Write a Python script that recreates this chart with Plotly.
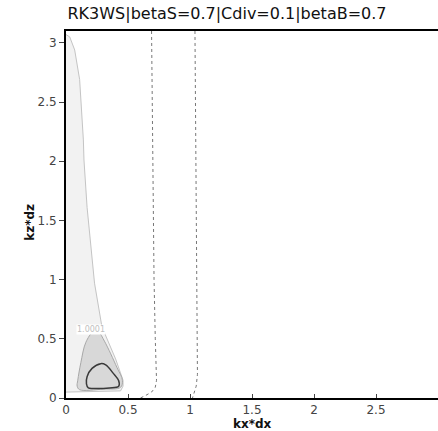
import plotly.graph_objects as go

title_text = "RK3WS|betaS=0.7|Cdiv=0.1|betaB=0.7"
x_ticks = [0, 0.5, 1, 1.5, 2, 2.5, 3]
x_labels = ["0", "0.5", "1", "1.5", "2", "2.5", "3"]
y_ticks = [0, 0.5, 1, 1.5, 2, 2.5, 3]
y_labels = ["0", "0.5", "1", "1.5", "2", "2.5", "3"]

# light region (level > 1.0001)
light_x = [0.0, 0.03, 0.07, 0.11, 0.14, 0.145, 0.17, 0.21, 0.23, 0.29, 0.33, 0.40, 0.46, 0.46, 0.44, 0.03, 0.0]
light_y = [3.07, 3.05, 2.94, 2.69, 2.18, 2.01, 1.61, 1.17, 0.97, 0.60, 0.50, 0.33, 0.15, 0.10, 0.06, 0.05, 0.05]

# medium region
mid_x = [0.22, 0.16, 0.12, 0.095, 0.09, 0.11, 0.30, 0.44, 0.455, 0.41, 0.31, 0.26, 0.22]
mid_y = [0.56, 0.47, 0.30, 0.15, 0.10, 0.07, 0.075, 0.09, 0.15, 0.26, 0.48, 0.56, 0.56]

# dark contour line
dark_x = [0.28, 0.21, 0.17, 0.165, 0.18, 0.22, 0.35, 0.425, 0.425, 0.38, 0.32, 0.28]
dark_y = [0.29, 0.25, 0.18, 0.12, 0.085, 0.08, 0.085, 0.10, 0.145, 0.21, 0.28, 0.29]

# dotted contours
dot1_x = [0.69, 0.70, 0.71, 0.72, 0.73, 0.72, 0.69, 0.64, 0.60]
dot1_y = [3.10, 2.0, 1.0, 0.50, 0.15, 0.09, 0.05, 0.02, 0.0]
dot2_x = [1.04, 1.05, 1.06, 1.06, 1.05, 1.04, 1.02]
dot2_y = [3.10, 1.50, 0.60, 0.20, 0.10, 0.06, 0.0]

fig = go.Figure()
fig.add_trace(go.Scatter(x=light_x, y=light_y, mode="lines", fill="toself",
                         fillcolor="#f2f2f2", line=dict(color="#c4c4c4", width=1),
                         hoverinfo="skip", showlegend=False))
fig.add_trace(go.Scatter(x=mid_x, y=mid_y, mode="lines", fill="toself",
                         fillcolor="#d8d8d8", line=dict(color="#a8a8a8", width=1),
                         line_shape="spline", hoverinfo="skip", showlegend=False))
fig.add_trace(go.Scatter(x=dark_x, y=dark_y, mode="lines",
                         line=dict(color="#3a3a3a", width=1.5),
                         line_shape="spline", hoverinfo="skip", showlegend=False))
fig.add_trace(go.Scatter(x=dot1_x, y=dot1_y, mode="lines",
                         line=dict(color="#777777", width=1, dash="dot"),
                         hoverinfo="skip", showlegend=False))
fig.add_trace(go.Scatter(x=dot2_x, y=dot2_y, mode="lines",
                         line=dict(color="#777777", width=1, dash="dot"),
                         hoverinfo="skip", showlegend=False))

fig.add_annotation(x=0.2, y=0.58, text="1.0001", showarrow=False,
                   font=dict(size=8, color="#c0c0c0", family="DejaVu Sans"),
                   bgcolor="white", borderpad=0)

# axis titles as annotations for exact placement
fig.add_annotation(x=0.5, y=-0.072, xref="paper", yref="paper", text="<b>kx*dx</b>",
                   showarrow=False, xanchor="center", yanchor="middle",
                   font=dict(size=12, color="#111", family="DejaVu Sans"))
fig.add_annotation(x=-0.097, y=0.48, xref="paper", yref="paper", text="<b>kz*dz</b>",
                   showarrow=False, xanchor="center", yanchor="middle", textangle=-90,
                   font=dict(size=12, color="#111", family="DejaVu Sans"))

fig.update_layout(
    width=438, height=431,
    margin=dict(l=66, r=0, t=31, b=33),
    paper_bgcolor="white", plot_bgcolor="white",
    title=dict(text=title_text, x=227 / 438, xanchor="center", y=1 - 8 / 431, yanchor="top",
               pad=dict(t=0, b=0, l=0, r=0),
               font=dict(size=16, color="#111", family="DejaVu Sans")),
    font=dict(family="DejaVu Sans"),
    xaxis=dict(range=[0, 3], tickvals=x_ticks, ticktext=x_labels,
               showgrid=False, zeroline=False, showline=True, linecolor="black",
               linewidth=2, mirror=True, ticks="inside", ticklen=4, tickcolor="#444",
               tickfont=dict(size=12, color="#444")),
    yaxis=dict(range=[0, 3.1], tickvals=y_ticks, ticktext=y_labels,
               showgrid=False, zeroline=False, showline=True, linecolor="black",
               linewidth=2, mirror=False, ticks="outside", ticklen=5, tickcolor="#444",
               tickfont=dict(size=12, color="#444")),
)

fig.write_html(
    "out.html",
    config={"displayModeBar": False},
    post_script="document.body.style.margin='0';document.body.style.overflow='hidden';",
)
